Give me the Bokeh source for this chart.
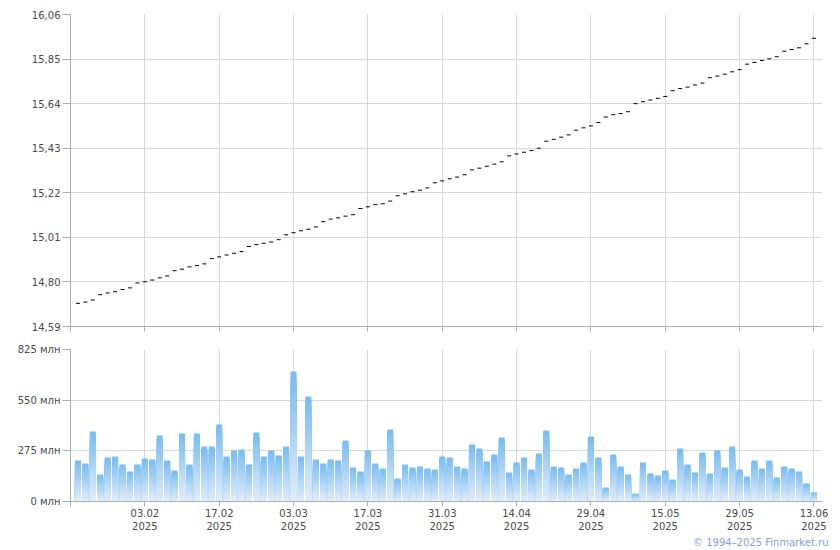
from bokeh.plotting import figure
from bokeh.layouts import column
from bokeh.models import (FixedTicker, CustomJSTickFormatter, Range1d,
                          ColumnDataSource, Title)
from bokeh.embed import file_html
from bokeh.resources import INLINE

# ---------------- data ----------------
prices = [
    14.699, 14.705, 14.715, 14.740, 14.748, 14.754, 14.764, 14.772, 14.795, 14.801,
    14.809, 14.819, 14.828, 14.853, 14.860, 14.871, 14.877, 14.885, 14.910, 14.918,
    14.927, 14.935, 14.943, 14.967, 14.976, 14.982, 14.988, 14.999, 15.022, 15.032,
    15.041, 15.048, 15.059, 15.084, 15.096, 15.102, 15.110, 15.117, 15.146, 15.154,
    15.164, 15.168, 15.181, 15.206, 15.215, 15.225, 15.232, 15.243, 15.267, 15.276,
    15.286, 15.294, 15.305, 15.328, 15.336, 15.345, 15.355, 15.366, 15.394, 15.403,
    15.411, 15.419, 15.430, 15.463, 15.472, 15.482, 15.493, 15.515, 15.526, 15.535,
    15.551, 15.577, 15.588, 15.593, 15.602, 15.640, 15.649, 15.657, 15.665, 15.674,
    15.701, 15.711, 15.718, 15.728, 15.737, 15.762, 15.770, 15.779, 15.790, 15.800,
    15.826, 15.834, 15.843, 15.851, 15.861, 15.887, 15.895, 15.903, 15.922, 15.948,
]

volumes = [  # млн
    222, 206, 380, 146, 239, 244, 201, 163, 201, 233,
    228, 358, 222, 168, 369, 201, 369, 298, 298, 418,
    244, 277, 282, 201, 374, 244, 277, 250, 298, 705,
    244, 570, 228, 206, 228, 222, 331, 184, 163, 277,
    206, 179, 391, 125, 201, 184, 190, 179, 174, 244,
    239, 190, 179, 309, 288, 217, 255, 347, 157, 212,
    239, 174, 260, 385, 190, 184, 146, 179, 212, 353,
    239, 76, 255, 190, 146, 43, 212, 152, 141, 168,
    119, 288, 201, 157, 266, 152, 277, 184, 298, 174,
    136, 222, 179, 222, 130, 190, 179, 163, 98, 49,
]

tick_index = [9, 19, 29, 39, 49, 59, 69, 79, 89, 99]
tick_dates = ["03.02", "17.02", "03.03", "17.03", "31.03",
              "14.04", "29.04", "15.05", "29.05", "13.06"]
tick_year = "2025"
price_ticks = [14.59, 14.80, 15.01, 15.22, 15.43, 15.64, 15.85, 16.06]
volume_ticks = [0, 275, 550, 825]

# ---------------- styling ----------------
FONT = "DejaVu Sans"
LABEL_COLOR = "#4a4a4a"
AXIS_COLOR = "#a9afb8"
GRID_COLOR = "#d3d9de"
BAR_TOP = (122, 189, 241)
BAR_BOTTOM = (224, 236, 249)

x = list(range(len(prices)))
x_start, x_end = -1.0, 100.15


def style(p, yticks, yfmt, show_xlabels):
    p.outline_line_color = None
    p.background_fill_color = "white"
    p.border_fill_color = "white"
    for ax in (p.xaxis[0], p.yaxis[0]):
        ax.axis_line_color = AXIS_COLOR
        ax.major_tick_line_color = AXIS_COLOR
        ax.minor_tick_line_color = None
        ax.major_tick_in = 0
        ax.major_label_text_font = FONT
        ax.major_label_text_font_size = "10px"
        ax.major_label_text_color = LABEL_COLOR
    yax = p.yaxis[0]
    yax.ticker = FixedTicker(ticks=yticks)
    yax.formatter = CustomJSTickFormatter(code=yfmt)
    yax.major_tick_out = 8
    yax.major_label_standoff = 2
    xax = p.xaxis[0]
    xax.ticker = FixedTicker(ticks=[x_start] + tick_index)
    xax.major_tick_out = 5
    overrides = {x_start: ""}
    for i, d in zip(tick_index, tick_dates):
        overrides[i] = d + "\n" + tick_year if show_xlabels else ""
    xax.major_label_overrides = overrides
    xax.major_label_standoff = 1
    if not show_xlabels:
        xax.major_label_text_font_size = "0px"
        xax.major_label_standoff = 0
    p.xgrid.ticker = FixedTicker(ticks=tick_index)
    p.xgrid.grid_line_color = GRID_COLOR
    p.ygrid.grid_line_color = GRID_COLOR


# ---------------- top: price ----------------
top = figure(width=832, height=343, output_backend="svg", toolbar_location=None,
             x_range=Range1d(x_start, x_end),
             y_range=Range1d(price_ticks[0], price_ticks[-1]),
             min_border_left=70, min_border_right=10,
             min_border_top=14, min_border_bottom=17)
style(top, price_ticks,
      "return tick.toFixed(2).replace('.', ',');", False)
top.scatter(x, prices, marker="dash", size=4, line_color="black",
            line_width=1, fill_color=None)

# ---------------- bottom: volume ----------------
bottom = figure(width=832, height=207, output_backend="svg", toolbar_location=None,
                x_range=top.x_range,
                y_range=Range1d(volume_ticks[0], volume_ticks[-1]),
                min_border_left=70, min_border_right=10,
                min_border_top=6, min_border_bottom=49)
style(bottom, volume_ticks, "return tick.toFixed(0) + ' млн';", True)

N = 24
left, right, btm, tp, col = [], [], [], [], []
for k in range(N):
    frac_top = (N - k) / N          # from full bar down to the lowest slice
    t = (N - 1 - k) / (N - 1)       # 1 at top colour, 0 at bottom colour
    r = round(BAR_BOTTOM[0] + (BAR_TOP[0] - BAR_BOTTOM[0]) * t)
    g = round(BAR_BOTTOM[1] + (BAR_TOP[1] - BAR_BOTTOM[1]) * t)
    b = round(BAR_BOTTOM[2] + (BAR_TOP[2] - BAR_BOTTOM[2]) * t)
    c = "#%02x%02x%02x" % (r, g, b)
    for i, v in zip(x, volumes):
        left.append(i - 0.405)
        right.append(i + 0.405)
        btm.append(0)
        tp.append(v * frac_top)
        col.append(c)
src = ColumnDataSource(dict(left=left, right=right, bottom=btm, top=tp, color=col))
bottom.quad(left="left", right="right", bottom="bottom", top="top",
            fill_color="color", line_color=None, source=src)

bottom.add_layout(Title(text="© 1994–2025 Finmarket.ru", align="right",
                        text_font=FONT, text_font_size="10px",
                        text_font_style="normal", text_color="#8a9de0",
                        standoff=0, offset=-6), "below")

layout = column(top, bottom, spacing=0)
open("out.html", "w").write(file_html(layout, INLINE))
